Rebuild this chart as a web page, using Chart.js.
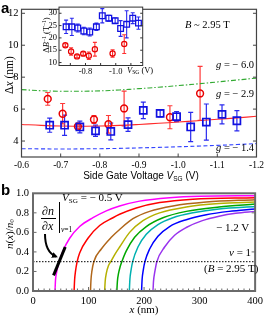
<!DOCTYPE html>
<html><head><meta charset="utf-8">
<script src="https://cdn.jsdelivr.net/npm/chart.js@4.4.0/dist/chart.umd.min.js"></script>
<style>
body{margin:0;width:267px;height:317px;position:relative;background:#fff;overflow:hidden;font-family:'Liberation Serif',serif;}
canvas{position:absolute;}
.t{position:absolute;white-space:nowrap;line-height:1;color:#000;}
.r{transform:translate(-50%,-50%) rotate(-90deg);}
sub{font-size:65%;vertical-align:-0.25em;line-height:0;}
sup{font-size:65%;vertical-align:0.45em;line-height:0;}
</style></head><body>
<canvas id="ca" width="267" height="185" style="left:0px;top:0px"></canvas>
<canvas id="ci" width="110" height="80" style="left:38px;top:0px"></canvas>
<canvas id="cb" width="267" height="134" style="left:0px;top:183px"></canvas>

<div class="t" style="left:1px;top:-1px;font:bold 15px 'Liberation Sans',sans-serif;">a</div>
<div class="t r" style="left:10px;top:75px;font-size:11.5px;">Δ<i>x</i> (nm)</div>
<div class="t" style="left:141px;top:170px;transform:translateX(-50%);font:10px 'Liberation Sans',sans-serif;">Side Gate Voltage <i>V</i><sub>SG</sub> (V)</div>
<div class="t" style="left:185px;top:20px;font-size:10.5px;"><i>B</i> ~ 2.95 T</div>
<div class="t" style="left:216px;top:60px;font-size:10.5px;"><i>g</i> = − 6.0</div>
<div class="t" style="left:216px;top:89px;font-size:10.5px;"><i>g</i> = − 2.9</div>
<div class="t" style="left:216px;top:143px;font-size:10.5px;"><i>g</i> = − 1.4</div>
<div class="t r" style="left:45.5px;top:35px;font-size:8.5px;">Δ<i>B</i><sup>−1</sup> (T<sup>−1</sup>)</div>
<div class="t" style="left:127px;top:66px;font-size:8.5px;"><i>V</i><sub>SG</sub> (V)</div>

<div class="t" style="left:1px;top:181px;font:bold 15px 'Liberation Sans',sans-serif;">b</div>
<div class="t r" style="left:8.5px;top:234px;font-size:11px;"><i>n</i>(<i>x</i>)/<i>n</i><sub>0</sub></div>
<div class="t" style="left:144px;top:304px;transform:translateX(-50%);font-size:11px;"><i>x</i> (nm)</div>
<div class="t" style="left:62px;top:192px;font-size:11px;"><i>V</i><sub>SG</sub> = − 0.5 V</div>
<div class="t" style="left:216px;top:222px;font-size:11px;">− 1.2 V</div>
<div class="t" style="left:229px;top:247px;font-size:11px;"><i>ν</i> = 1</div>
<div class="t" style="left:204px;top:263px;font-size:11px;">(<i>B</i> = 2.95 T)</div>
<div class="t" style="left:42px;top:205px;font-size:12px;"><i>∂n</i></div>
<div class="t" style="left:41px;top:217.5px;width:15px;border-top:1px solid #000;"></div>
<div class="t" style="left:42px;top:220px;font-size:12px;"><i>∂x</i></div>
<div class="t" style="left:58.5px;top:202px;height:31px;border-left:1px solid #000;"></div>
<div class="t" style="left:61px;top:226px;font-size:7.5px;"><i>ν</i>=1</div>
<svg style="position:absolute;left:0;top:0" width="267" height="317">
<defs><marker id="ah" markerWidth="6" markerHeight="6" refX="4" refY="3" orient="auto" markerUnits="userSpaceOnUse"><path d="M0,0 L6,3 L0,6 z" fill="#000"/></marker></defs>
<path d="M45,234 Q45,252 56,256.5" stroke="#000" stroke-width="2" fill="none" marker-end="url(#ah)"/>
</svg>

<script>
// ---------- Panel a data ----------
const vsgTicks = [-0.6,-0.7,-0.8,-0.9,-1.0,-1.1,-1.2];
const dxTicks = [4,6,8,10,12];
const vsgBlue = [-0.672,-0.710,-0.749,-0.789,-0.828,-0.872,-0.911,-0.954,-0.996,-1.032,-1.072,-1.112,-1.150];
const dxBlue = [4.99,4.99,4.88,4.64,4.60,5.03,5.92,5.73,5.53,4.88,5.19,5.67,5.27];
const dxBlueErr = [0.44,0.63,0.37,0.35,0.53,0.42,0.52,0.22,0.32,0.92,1.13,0.60,0.64];
const vsgRed = [-0.667,-0.705,-0.744,-0.785,-0.822,-0.862,-0.979,-1.056];
const dxRed = [6.64,5.71,4.91,5.35,5.05,6.04,5.49,6.98];
const dxRedErr = [0.40,0.64,0.12,0.24,0.55,1.09,0.72,1.69];
const fitV = [-0.6,-0.65,-0.7,-0.75,-0.8,-0.85,-0.9,-0.95,-1.0,-1.05,-1.1,-1.15,-1.2];
const gNeg60 = [7.22,7.15,7.12,7.12,7.14,7.20,7.28,7.37,7.47,7.58,7.70,7.82,7.94];
const gNeg29 = [5.04,4.98,4.94,4.93,4.94,4.98,5.04,5.11,5.19,5.27,5.36,5.45,5.55];
const gNeg14 = [3.52,3.51,3.50,3.51,3.52,3.54,3.57,3.60,3.64,3.68,3.73,3.78,3.84];
// inset
const insetXTicks = [-0.7,-0.8,-0.9,-1.0,-1.1];
const insetXLabels = ['', '-0.8', '', '-1.0', ''];
const invBTicks = [10,15,20,25,30];
const invBBlue = [24.5,24.5,24.0,22.8,22.4,24.5,29.0,28.0,27.0,23.8,25.5,28.0,26.0];
const invBBlueErr = [2.7,3.5,1.6,1.5,1.6,1.5,2.9,1.2,1.1,3.2,5.5,2.2,2.5];
const invBRed = [17.0,14.5,12.5,13.6,12.8,15.4,13.7,17.5];
const invBRedErr = [0.6,1.5,0.6,0.7,1.5,2.8,1.5,3.8];

// ---------- Panel b data ----------
const xTicksB = [0,100,200,300,400];
const nTicksB = [0,0.2,0.4,0.6,0.8,1.0];
const curveColors = ['#ff00ff','#ff0000','#b0661a','#b5b000','#00a800','#00b0b0','#0000ff','#9933ee'];
const xMag = [0,39.5,40.5,42.5,44.5,47,54,66,84,108,132,156,192,246,300,400];
const nMag = [0,0,0.11,0.19,0.245,0.30,0.41,0.54,0.66,0.75,0.82,0.87,0.92,0.955,0.97,0.975];
const xRed = [74,75,76.5,79.5,84,99,120,144,156,186,228,288,400];
const nRed = [0,0.12,0.2,0.3,0.39,0.54,0.67,0.75,0.785,0.85,0.905,0.94,0.955];
const xBrown = [103.5,104.5,106,109.5,123,141,156,180,210,252,312,400];
const nBrown = [0,0.12,0.2,0.3,0.43,0.55,0.63,0.74,0.815,0.87,0.91,0.935];
const xOlive = [129,130,132,136,140,148,156,174,198,228,276,335,400];
const nOlive = [0,0.1,0.18,0.26,0.3,0.38,0.45,0.6,0.72,0.8,0.86,0.895,0.91];
const xGreen = [151,152,154,157,160,168,183,204,234,276,335,400];
const nGreen = [0,0.1,0.18,0.25,0.3,0.41,0.55,0.66,0.75,0.815,0.86,0.89];
const xCyan = [173.5,174.5,176.5,179.5,189,204,225,252,288,335,400];
const nCyan = [0,0.12,0.21,0.3,0.45,0.58,0.68,0.75,0.80,0.84,0.865];
const xBlue = [195.5,196.5,198.5,201.5,210,225,246,276,312,353,400];
const nBlue = [0,0.12,0.21,0.3,0.43,0.56,0.66,0.73,0.78,0.815,0.84];
const xPurple = [0,216,217,219.5,223,237,255,276,305,335,365,400];
const nPurple = [0,0,0.1,0.2,0.3,0.45,0.57,0.65,0.72,0.765,0.795,0.815];
const nuLevel = [0.3,0.3];
const nuX = [0,400];
const tanX = [37,58];
const tanN = [0.16,0.45];

// ---------- helpers ----------
const pts = (xs,ys)=>xs.map((x,i)=>({x:x,y:ys[i]}));
const errPlugin = {id:'errbars', beforeDatasetsDraw(chart){
  const ctx=chart.ctx, xs=chart.scales.x, ys=chart.scales.y;
  chart.data.datasets.forEach(ds=>{
    if(!ds.errs) return;
    ctx.save(); ctx.strokeStyle=ds.errColor||ds.borderColor; ctx.lineWidth=ds.errWidth||1.2;
    ctx.beginPath();
    ds.data.forEach((p,i)=>{
      const e=ds.errs[i], x=xs.getPixelForValue(p.x);
      const y1=ys.getPixelForValue(p.y-e), y2=ys.getPixelForValue(p.y+e), c=ds.cap||2.5;
      ctx.moveTo(x,y1);ctx.lineTo(x,y2);
      ctx.moveTo(x-c,y1);ctx.lineTo(x+c,y1);
      ctx.moveTo(x-c,y2);ctx.lineTo(x+c,y2);
    });
    ctx.stroke(); ctx.restore();
  });
}};
const framePlugin = {id:'frame',
  beforeDraw(chart,args,o){
    if(o.fill){const a=chart.chartArea; chart.ctx.save(); chart.ctx.fillStyle=o.fill; chart.ctx.fillRect(a.left,a.top,a.right-a.left,a.bottom-a.top); chart.ctx.restore();}
  },
  afterDraw(chart,args,o){
    const ctx=chart.ctx, a=chart.chartArea, xs=chart.scales.x, ys=chart.scales.y;
    ctx.save(); ctx.strokeStyle=o.color; ctx.lineWidth=o.tickWidth||1;
    ctx.beginPath();
    (o.xt||[]).forEach(t=>{const x=xs.getPixelForValue(t[0]); ctx.moveTo(x,a.bottom); ctx.lineTo(x,a.bottom-t[1]);});
    (o.yt||[]).forEach(t=>{const y=ys.getPixelForValue(t[0]); ctx.moveTo(a.left,y); ctx.lineTo(a.left+t[1],y); ctx.moveTo(a.right,y); ctx.lineTo(a.right-t[1],y);});
    ctx.stroke();
    ctx.lineWidth=o.width; ctx.strokeRect(a.left,a.top,a.right-a.left,a.bottom-a.top);
    ctx.restore();
  }};
const base = {responsive:false, animation:false, devicePixelRatio:1, events:[]};
const serif = (s)=>({family:'Liberation Serif', size:s});

// ---------- Panel a ----------
new Chart(document.getElementById('ca'), {
  type:'line',
  data:{datasets:[
    {data:pts(vsgBlue,dxBlue), errs:dxBlueErr, showLine:false, pointStyle:'rect', pointRadius:5, borderColor:'#1010e0', backgroundColor:'rgba(0,0,0,0)', borderWidth:1.7, errColor:'#2a2aee', cap:2.5},
    {data:pts(vsgRed,dxRed), errs:dxRedErr, showLine:false, pointStyle:'circle', pointRadius:3.4, borderColor:'#e80000', backgroundColor:'rgba(0,0,0,0)', borderWidth:1.5, errColor:'#ff3a3a', cap:2.5},
    {data:pts(fitV,gNeg60), borderColor:'#33aa33', borderWidth:1.1, borderDash:[5,2,1.5,2], pointRadius:0, tension:0.4},
    {data:pts(fitV,gNeg29), borderColor:'#ff2a2a', borderWidth:1.1, pointRadius:0, tension:0.4},
    {data:pts(fitV,gNeg14), borderColor:'#3344ff', borderWidth:1.1, borderDash:[4,2.5], pointRadius:0, tension:0.4}
  ]},
  options:Object.assign({}, base, {
    layout:{padding:{left:0,top:1.5,right:8.5,bottom:0}},
    plugins:{legend:{display:false}, tooltip:{enabled:false},
      frame:{color:'#444', width:1.2, xt:vsgTicks.slice(1,-1).map(v=>[v,3.5]), yt:dxTicks.map(v=>[v,3.5])}},
    scales:{
      x:{type:'linear', min:-1.2, max:-0.6, reverse:true, grid:{display:false,drawTicks:false}, border:{display:false},
         afterBuildTicks:s=>{s.ticks=vsgTicks.map(v=>({value:v}));},
         ticks:{autoSkip:false, maxRotation:0, padding:3, color:'#000', font:serif(9.5), callback:v=>Number(v).toFixed(1)},
         afterFit:s=>{s.height=28;}},
      y:{type:'linear', min:3, max:12.25, grid:{display:false,drawTicks:false}, border:{display:false},
         afterBuildTicks:s=>{s.ticks=dxTicks.map(v=>({value:v}));},
         ticks:{padding:3, color:'#000', font:serif(10.5), callback:v=>String(v)},
         afterFit:s=>{s.width=21.5;}}
    }
  }),
  plugins:[errPlugin, framePlugin]
});

// ---------- Inset ----------
new Chart(document.getElementById('ci'), {
  type:'line',
  data:{datasets:[
    {data:pts(vsgBlue,invBBlue), errs:invBBlueErr, showLine:false, pointStyle:'rect', pointRadius:4, borderColor:'#1010e0', backgroundColor:'rgba(0,0,0,0)', borderWidth:1.3, errColor:'#2a2aee', cap:2, errWidth:1.1},
    {data:pts(vsgRed,invBRed), errs:invBRedErr, showLine:false, pointStyle:'circle', pointRadius:2.6, borderColor:'#e80000', backgroundColor:'rgba(0,0,0,0)', borderWidth:1.2, errColor:'#ff3030', cap:2, errWidth:1.1}
  ]},
  options:Object.assign({}, base, {
    layout:{padding:{left:0,top:3,right:1,bottom:0}},
    plugins:{legend:{display:false}, tooltip:{enabled:false},
      frame:{color:'#333', width:1, fill:'#fff', xt:insetXTicks.map(v=>[v,2.5]), yt:invBTicks.map(v=>[v,2.5])}},
    scales:{
      x:{type:'linear', min:-1.178, max:-0.625, reverse:true, grid:{display:false,drawTicks:false}, border:{display:false},
         afterBuildTicks:s=>{s.ticks=insetXTicks.map(v=>({value:v}));},
         ticks:{autoSkip:false, maxRotation:0, padding:1, color:'#000', font:serif(8.5), callback:(v,i)=>insetXLabels[i]},
         afterFit:s=>{s.height=14.5;}},
      y:{type:'linear', min:8.8, max:32.5, grid:{display:false,drawTicks:false}, border:{display:false},
         afterBuildTicks:s=>{s.ticks=invBTicks.map(v=>({value:v}));},
         ticks:{padding:2, color:'#000', font:serif(8.5), callback:v=>String(v)},
         afterFit:s=>{s.width=21;}}
    }
  }),
  plugins:[errPlugin, framePlugin]
});

// ---------- Panel b ----------
const curveX = [xMag,xRed,xBrown,xOlive,xGreen,xCyan,xBlue,xPurple];
const curveN = [nMag,nRed,nBrown,nOlive,nGreen,nCyan,nBlue,nPurple];
const minorX = []; for(let v=10; v<400; v+=10){ minorX.push([v, v%100===0?4:2.5]); }
new Chart(document.getElementById('cb'), {
  type:'line',
  data:{datasets:[
    {data:pts(tanX,tanN), borderColor:'#000', borderWidth:3, pointRadius:0},
    {data:pts(nuX,nuLevel), borderColor:'#000', borderWidth:1, borderDash:[1.5,1.5], pointRadius:0}
  ].concat(curveX.map((xs,i)=>({data:pts(xs,curveN[i]), borderColor:curveColors[i], borderWidth:1.5, pointRadius:0, cubicInterpolationMode:'monotone'})))},
  options:Object.assign({}, base, {
    layout:{padding:{left:0,top:5,right:11,bottom:0}},
    plugins:{legend:{display:false}, tooltip:{enabled:false},
      frame:{color:'#6a6a6a', width:2, tickWidth:1, xt:minorX, yt:nTicksB.slice(1,-1).map(v=>[v,3.5])}},
    scales:{
      x:{type:'linear', min:0, max:400, grid:{display:false,drawTicks:false}, border:{display:false},
         afterBuildTicks:s=>{s.ticks=xTicksB.map(v=>({value:v}));},
         ticks:{autoSkip:false, maxRotation:0, padding:4, color:'#000', font:serif(10.5), callback:v=>String(v)},
         afterFit:s=>{s.height=26;}},
      y:{type:'linear', min:0, max:1, grid:{display:false,drawTicks:false}, border:{display:false},
         afterBuildTicks:s=>{s.ticks=nTicksB.map(v=>({value:v}));},
         ticks:{padding:4, color:'#000', font:serif(10.5), callback:v=>Number(v).toFixed(1)},
         afterFit:s=>{s.width=33;}}
    }
  }),
  plugins:[framePlugin]
});
</script>
</body></html>
